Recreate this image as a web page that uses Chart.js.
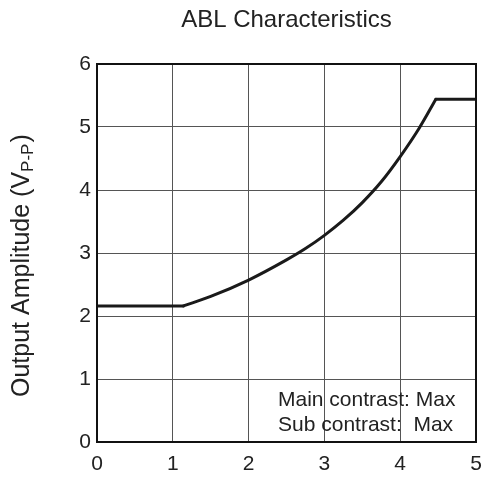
<!DOCTYPE html>
<html>
<head>
<meta charset="utf-8">
<script src="https://cdn.jsdelivr.net/npm/chart.js@4/dist/chart.umd.min.js"></script>
<style>
  html, body { margin: 0; padding: 0; background: #fff; }
  #wrap { width: 498px; height: 477px; position: relative; }
</style>
</head>
<body>
<div id="wrap"><canvas id="c" width="498" height="477"></canvas></div>
<script>
// Data
const xValues = [0, 1.14, 1.5, 2, 2.5, 2.75, 3, 3.25, 3.5, 3.75, 4, 4.25, 4.47, 5];
const yValues = [2.16, 2.16, 2.31, 2.57, 2.89, 3.07, 3.28, 3.52, 3.8, 4.13, 4.53, 4.98, 5.44, 5.44];
const xTicks = [0, 1, 2, 3, 4, 5];
const yTicks = [0, 1, 2, 3, 4, 5, 6];
const chartTitle = 'ABL Characteristics';
const yTitleMain = 'Output Amplitude (V';
const yTitleSub = 'P-P';
const yTitleEnd = ')';
const noteLines = ['Main contrast: Max', 'Sub contrast:  Max'];

const FONT = "Liberation Sans, Arial, Helvetica, sans-serif";
const points = xValues.map((x, i) => ({ x: x, y: yValues[i] }));
const lowKnee = 1, highKnee = 12;

const decor = {
  id: 'decor',
  afterDatasetsDraw(chart) {
    const ctx = chart.ctx;
    const a = chart.chartArea;
    ctx.save();
    ctx.strokeStyle = '#111';
    ctx.lineWidth = 2;
    ctx.strokeRect(a.left, a.top, a.right - a.left, a.bottom - a.top);
    ctx.restore();
  },
  afterDraw(chart) {
    const ctx = chart.ctx;
    const a = chart.chartArea;
    ctx.save();
    ctx.fillStyle = '#222';
    ctx.font = '24px ' + FONT;
    ctx.textAlign = 'center';
    ctx.textBaseline = 'alphabetic';
    ctx.fillText(chartTitle, (a.left + a.right) / 2, 27);
    ctx.font = '21px ' + FONT;
    ctx.textAlign = 'left';
    ctx.fillText(noteLines[0], 278, 406);
    ctx.fillText(noteLines[1], 278, 431);
    ctx.translate(29, 397);
    ctx.rotate(-Math.PI / 2);
    ctx.font = '25px ' + FONT;
    ctx.textAlign = 'left';
    let w = ctx.measureText(yTitleMain).width;
    ctx.fillText(yTitleMain, 0, 0);
    ctx.font = '17px ' + FONT;
    ctx.fillText(yTitleSub, w, 4);
    w += ctx.measureText(yTitleSub).width;
    ctx.font = '25px ' + FONT;
    ctx.fillText(yTitleEnd, w + 1, 0);
    ctx.restore();
  }
};

const lineStyle = {
  showLine: true,
  borderColor: '#1a1a1a',
  borderWidth: 3,
  pointRadius: 0,
  fill: false,
  borderCapStyle: 'round',
  borderJoinStyle: 'round'
};

new Chart(document.getElementById('c'), {
  type: 'scatter',
  data: {
    datasets: [
      Object.assign({ data: points.slice(0, lowKnee + 1), tension: 0 }, lineStyle),
      Object.assign({ data: points.slice(lowKnee, highKnee + 1), cubicInterpolationMode: 'monotone' }, lineStyle),
      Object.assign({ data: points.slice(highKnee), tension: 0 }, lineStyle)
    ]
  },
  options: {
    responsive: false,
    animation: false,
    devicePixelRatio: 1,
    layout: { padding: { top: 64, right: 22, left: 0, bottom: 0 } },
    plugins: { legend: { display: false }, title: { display: false }, tooltip: { enabled: false } },
    scales: {
      x: {
        type: 'linear', min: 0, max: 5,
        afterFit(s) { s.height = 35; },
        afterBuildTicks(s) { s.ticks = xTicks.map(v => ({ value: v })); },
        grid: { color: '#555', lineWidth: 1, drawTicks: false },
        border: { display: false },
        ticks: { color: '#222', font: { family: FONT, size: 21 }, padding: 10, maxRotation: 0 }
      },
      y: {
        type: 'linear', min: 0, max: 6,
        afterFit(s) { s.width = 97; },
        afterBuildTicks(s) { s.ticks = yTicks.map(v => ({ value: v })); },
        grid: { color: '#555', lineWidth: 1, drawTicks: false },
        border: { display: false },
        ticks: { color: '#222', font: { family: FONT, size: 21 }, padding: 6 }
      }
    }
  },
  plugins: [decor]
});
</script>
</body>
</html>
